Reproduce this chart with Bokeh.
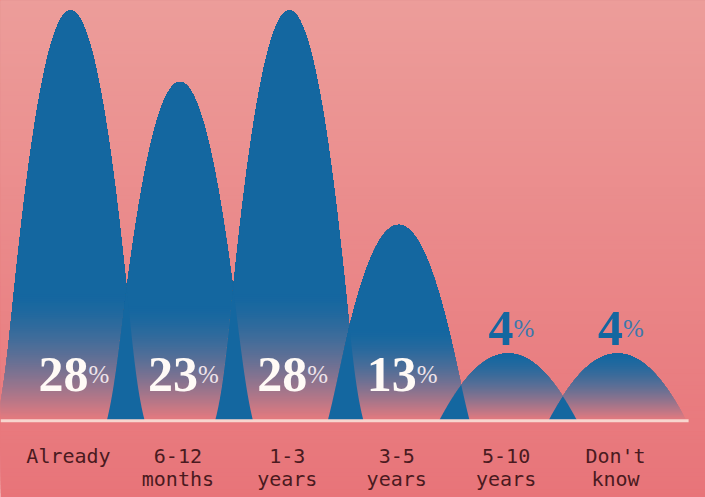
import numpy as np
from bokeh.plotting import figure
from bokeh.models import Range1d, ColumnDataSource
from bokeh.embed import file_html
from bokeh.resources import INLINE
from bokeh.core.properties import value

# ---- data ----
categories = ["Already", "6-12\nmonths", "1-3\nyears", "3-5\nyears", "5-10\nyears", "Don't\nknow"]
percent = [28, 23, 28, 13, 4, 4]

# ---- styles ----
BLUE = (20, 103, 160)
BG_TOP = (236, 157, 154)
BG_BOT = (232, 116, 121)
PXX = 109.4                # pixels per category
X0 = -70 / PXX
X1 = X0 + 705 / PXX
Y1 = 28.7
PXY = 14.29
Y0 = Y1 - 497 / PXY
BASE = -0.7                # baseline level
W = 68 / PXX               # half-width of a bell at its base


def hexc(c):
    return "#%02x%02x%02x" % tuple(int(round(v)) for v in c)


def mix(a, b, t):
    return tuple(a[i] * (1 - t) + b[i] * t for i in range(3))


def bg_at(y):
    t = (Y1 - y) / (Y1 - Y0)
    return mix(BG_TOP, BG_BOT, t)


def profile(v):
    """half-width (x units) versus height (data units), heights decreasing."""
    hd = v - BASE
    hpx = hd * PXY
    dxp = np.linspace(0, W, 500)
    u = 1 - (dxp / W) ** 2
    h = BASE + hd * u
    flare = 0.015 * hpx * np.exp(-u * hpx / 35) / PXX
    return h, dxp + flare


def top_at(x, c, v):
    h, dx = profile(v)
    d = np.abs(x - c)
    y = np.interp(d, dx, h, right=BASE)
    return y


p = figure(width=705, height=497, x_range=Range1d(X0, X1), y_range=Range1d(Y0, Y1),
           output_backend="svg", toolbar_location=None, min_border=0)
p.axis.visible = False
p.grid.visible = False
p.outline_line_color = None
p.background_fill_color = hexc(BG_BOT)
p.border_fill_color = hexc(BG_BOT)

# background gradient
nb = 120
ylev = np.linspace(Y0, Y1, nb, endpoint=False)
step_bg = (Y1 - Y0) / nb
p.quad(left=X0, right=X1, bottom=ylev, top=Y1,
       fill_color=[hexc(bg_at(y + step_bg / 2)) for y in ylev], line_color=None)

# bells with gradient bands
xs, ys, cols = [], [], []
STEP = 0.14
for i, v in enumerate(percent):
    g_top = min(v, BASE + 4 + 0.17 * (v - BASE))
    n = int(np.ceil((g_top - BASE) / STEP))
    levels = [BASE + k * STEP for k in range(n)]
    if v > g_top + 1e-6:
        levels.append(g_top)
    hh, dd = profile(v)
    for h in levels:
        if h >= v:
            continue
        m = hh > h
        dxh = np.interp(h, hh[::-1], dd[::-1])
        right_x = np.concatenate([i + dd[m], [i + dxh]])
        right_y = np.concatenate([hh[m], [h]])
        left_x = np.concatenate([[i - dxh], (i - dd[m])[::-1]])
        left_y = np.concatenate([[h], hh[m][::-1]])
        if h >= g_top - 1e-9:
            col = BLUE
        else:
            s = min((h + STEP / 2 - BASE) / (g_top - BASE), 1.0)
            pf = (1 - s) ** 1.5
            col = mix(BLUE, bg_at(h), pf)
        xs.append(list(left_x) + list(right_x))
        ys.append(list(left_y) + list(right_y))
        cols.append(hexc(col))

# overlaps of neighbouring bells: solid blue
for i in range(len(percent) - 1):
    v1, v2 = percent[i], percent[i + 1]
    xa = (i + 1) - profile(v2)[1][-1]
    xb = i + profile(v1)[1][-1]
    if xb <= xa:
        continue
    xx = np.linspace(xa, xb, 200)
    top = np.maximum(np.minimum(top_at(xx, i, v1), top_at(xx, i + 1, v2)), BASE)
    xs.append(list(xx) + [xb, xa])
    ys.append(list(top) + [BASE, BASE])
    cols.append(hexc(BLUE))

p.patches(xs="xs", ys="ys", fill_color="c", line_color=None,
          source=ColumnDataSource(dict(xs=xs, ys=ys, c=cols)))

# baseline
p.segment(x0=X0, y0=BASE, x1=len(percent) - 1 + 0.65, y1=BASE,
          line_color="#f8d6ce", line_width=3)

# value labels
idx = list(range(len(percent)))
inside = [v >= 10 for v in percent]
num_txt = [str(v) for v in percent]
lab_y = [BASE if ins else v for v, ins in zip(percent, inside)]
lab_yoff = [-46 if ins else -25 for ins in inside]
xoff = [3 - (len(t) * 25 + 20) / 2 + len(t) * 25 for t in num_txt]
num_col = ["#fffaf6" if ins else hexc(BLUE) for ins in inside]
src = ColumnDataSource(dict(x=idx, y=lab_y, t=num_txt, yo=lab_yoff, xo=xoff,
                            c=num_col, pc=["#efe4ea" if ins else "#3d78ad" for ins in inside]))
p.text(x="x", y="y", text="t", x_offset="xo", y_offset="yo", text_color="c",
       text_font=value("Liberation Serif"), text_font_style="bold",
       text_font_size="50px", text_align="right", text_baseline="alphabetic", source=src)
p.text(x="x", y="y", text=value("%"), x_offset="xo", y_offset="yo", text_color="pc",
       text_font=value("Liberation Serif"), text_font_size="25px",
       text_align="left", text_baseline="alphabetic", source=src)

# category labels
line1 = [c.split("\n")[0] for c in categories]
line2 = [c.split("\n")[1] if "\n" in c else "" for c in categories]
csrc = ColumnDataSource(dict(x=idx, y=[BASE] * len(idx), a=line1, b=line2))
for col, off in (("a", 35), ("b", 58)):
    p.text(x="x", y="y", text=col, y_offset=off, x_offset=-2, text_color="#4a1a20",
           text_font=value("DejaVu Sans Mono"), text_font_size="20px",
           text_align="center", text_baseline="alphabetic", source=csrc)

open("out.html", "w").write(file_html(p, INLINE))
